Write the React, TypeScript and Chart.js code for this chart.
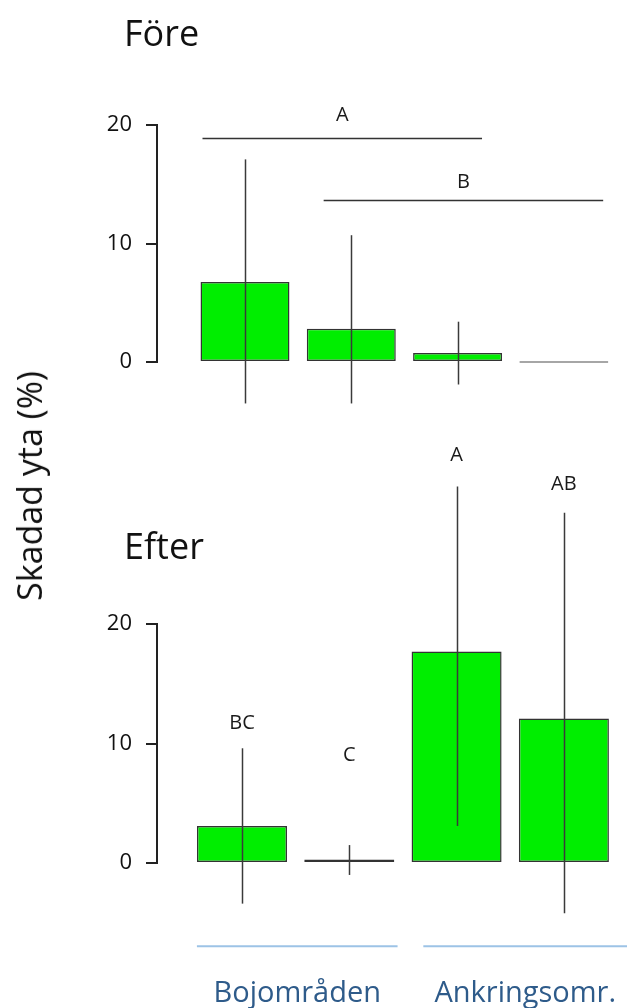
import React, { useEffect, useRef } from "react";
import { Chart, registerables } from "chart.js";

Chart.register(...registerables);

// ---- data ----
const xPositions = [1, 2, 3, 4];
const yTicks = [0, 10, 20];

const foreMeans = [6.75, 2.8, 0.75, 0];
const foreUpper = [17.1, 10.7, 3.4, 0];
const foreLower = [-3.5, -3.5, -1.9, 0];

const sigLetters = ["A", "B"];
const sigFrom = [0.6, 1.74];
const sigTo = [3.23, 4.37];
const sigLevel = [18.9, 13.7];
const sigLetterY = [20.8, 15.2];

const efterMeans = [3.1, 0.3, 17.7, 12.1];
const efterUpper = [9.6, 1.5, 31.5, 29.3];
const efterLower = [-3.4, -1.0, 3.1, -4.2];
const efterLetters = ["BC", "C", "A", "AB"];
const efterLetterY = [11.7, 9.0, 34.1, 31.7];

const groupNames = ["Bojområden", "Ankringsomr."];
const groupFrom = [0.58, 2.69];
const groupTo = [2.45, 4.59];

const FONT = "'Open Sans', 'Noto Sans', sans-serif";
const GREEN = "#00ee00";

type PanelOpts = {
  means: number[];
  upper: number[];
  lower: number[];
  barColors: string[];
  borderColors: string[];
  xMin: number;
  xMax: number;
  yMin: number;
  yMax: number;
  padTop: number;
  padBottom: number;
  barPct: number;
  decorate: (chart: any) => void;
};

function makeConfig(p: PanelOpts): any {
  const decor = {
    id: "panelDecor",
    afterDatasetsDraw(chart: any) {
      const ctx = chart.ctx;
      const xs = chart.scales.x;
      const ys = chart.scales.y;
      ctx.save();
      // y axis line from lowest to highest tick
      ctx.strokeStyle = "#222";
      ctx.lineWidth = 2;
      ctx.beginPath();
      ctx.moveTo(chart.chartArea.left, ys.getPixelForValue(yTicks[yTicks.length - 1]) - 1);
      ctx.lineTo(chart.chartArea.left, ys.getPixelForValue(yTicks[0]) + 1);
      ctx.stroke();
      // error bars
      ctx.strokeStyle = "#3a3a3a";
      ctx.lineWidth = 1.5;
      xPositions.forEach((xv, i) => {
        if (p.upper[i] === p.lower[i]) return;
        const px = Math.round(xs.getPixelForValue(xv)) + 0.5;
        ctx.beginPath();
        ctx.moveTo(px, ys.getPixelForValue(p.upper[i]));
        ctx.lineTo(px, ys.getPixelForValue(p.lower[i]));
        ctx.stroke();
      });
      ctx.restore();
      p.decorate(chart);
    },
  };
  const zeroPad = (s: any) => {
    s.paddingTop = 0;
    s.paddingBottom = 0;
    s.paddingLeft = 0;
    s.paddingRight = 0;
  };
  return {
    type: "bar",
    data: {
      datasets: [
        {
          data: xPositions.map((x, i) => ({ x, y: p.means[i] })),
          backgroundColor: p.barColors,
          borderColor: p.borderColors,
          borderWidth: 1.5,
          borderSkipped: false,
          minBarLength: 2,
          barPercentage: p.barPct,
          categoryPercentage: 1,
        },
      ],
    },
    options: {
      animation: false,
      responsive: false,
      devicePixelRatio: 1,
      layout: { autoPadding: false, padding: { left: 0, right: 10, top: p.padTop, bottom: p.padBottom } },
      plugins: { legend: { display: false }, tooltip: { enabled: false }, title: { display: false } },
      scales: {
        x: {
          type: "linear",
          display: false,
          offset: false,
          min: p.xMin,
          max: p.xMax,
          grid: { offset: false },
          afterBuildTicks: (s: any) => {
            s.ticks = xPositions.map((v) => ({ value: v }));
          },
          afterFit: zeroPad,
        },
        y: {
          type: "linear",
          min: p.yMin,
          max: p.yMax,
          afterBuildTicks: (s: any) => {
            s.ticks = yTicks.map((v) => ({ value: v }));
          },
          afterFit: (s: any) => {
            s.width = 157;
            zeroPad(s);
          },
          border: { display: false },
          grid: { display: true, drawOnChartArea: false, drawTicks: true, tickLength: 11, color: "#222", lineWidth: 2 },
          ticks: { padding: 14, color: "#111", font: { family: FONT, size: 22 } },
        },
      },
    },
    plugins: [decor],
  };
}

function drawText(ctx: any, text: string, x: number, y: number, size: number, color: string) {
  ctx.save();
  ctx.fillStyle = color;
  ctx.font = `${size}px ${FONT}`;
  ctx.textAlign = "center";
  ctx.textBaseline = "middle";
  ctx.fillText(text, x, y);
  ctx.restore();
}

export default function App() {
  const topRef = useRef<HTMLCanvasElement>(null);
  const botRef = useRef<HTMLCanvasElement>(null);

  useEffect(() => {
    const top = new Chart(
      topRef.current as HTMLCanvasElement,
      makeConfig({
        means: foreMeans,
        upper: foreUpper,
        lower: foreLower,
        barColors: [GREEN, GREEN, GREEN, "#a6a6a6"],
        borderColors: ["#333", "#333", "#333", "#a6a6a6"],
        xMin: 0.172,
        xMax: 4.5,
        yMin: -4.5,
        yMax: 22.5,
        padTop: 95.4,
        padBottom: 4.7,
        barPct: 0.837,
        decorate: (chart: any) => {
          const ctx = chart.ctx;
          const xs = chart.scales.x;
          const ys = chart.scales.y;
          sigLetters.forEach((l, i) => {
            const py = Math.round(ys.getPixelForValue(sigLevel[i])) + 0.5;
            ctx.save();
            ctx.strokeStyle = "#333";
            ctx.lineWidth = 1.5;
            ctx.beginPath();
            ctx.moveTo(xs.getPixelForValue(sigFrom[i]), py);
            ctx.lineTo(xs.getPixelForValue(sigTo[i]), py);
            ctx.stroke();
            ctx.restore();
            drawText(ctx, l, xs.getPixelForValue((sigFrom[i] + sigTo[i]) / 2), ys.getPixelForValue(sigLetterY[i]), 20, "#1a1a1a");
          });
        },
      })
    );
    const bot = new Chart(
      botRef.current as HTMLCanvasElement,
      makeConfig({
        means: efterMeans,
        upper: efterUpper,
        lower: efterLower,
        barColors: [GREEN, GREEN, GREEN, GREEN],
        borderColors: ["#333", "#333", "#333", "#333"],
        xMin: 0.208,
        xMax: 4.495,
        yMin: -5,
        yMax: 35,
        padTop: 24.75,
        padBottom: 85.25,
        barPct: 0.839,
        decorate: (chart: any) => {
          const ctx = chart.ctx;
          const xs = chart.scales.x;
          const ys = chart.scales.y;
          efterLetters.forEach((l, i) => {
            drawText(ctx, l, xs.getPixelForValue(xPositions[i]), ys.getPixelForValue(efterLetterY[i]), 20, "#1a1a1a");
          });
          const lineY = chart.chartArea.bottom + 23.5;
          groupNames.forEach((g, i) => {
            const x0 = xs.getPixelForValue(groupFrom[i]);
            const x1 = xs.getPixelForValue(groupTo[i]);
            ctx.save();
            ctx.strokeStyle = "#9dc3e6";
            ctx.lineWidth = 2;
            ctx.beginPath();
            ctx.moveTo(x0, lineY);
            ctx.lineTo(x1, lineY);
            ctx.stroke();
            ctx.fillStyle = "#2e5b8a";
            ctx.font = `29px ${FONT}`;
            ctx.textAlign = "center";
            ctx.textBaseline = "alphabetic";
            ctx.fillText(g, (x0 + x1) / 2, chart.chartArea.bottom + 79);
            ctx.restore();
          });
        },
      })
    );
    return () => {
      top.destroy();
      bot.destroy();
    };
  }, []);

  const titleStyle: React.CSSProperties = {
    position: "absolute",
    left: 124,
    fontFamily: FONT,
    fontSize: 36,
    lineHeight: "36px",
    color: "#111",
    whiteSpace: "nowrap",
  };

  return (
    <div
      style={{
        position: "absolute",
        left: 0,
        top: 0,
        width: 627,
        height: 1008,
        background: "#fff",
        overflow: "hidden",
      }}
    >
      <canvas ref={topRef} width={627} height={420} style={{ position: "absolute", left: 0, top: 0 }} />
      <canvas ref={botRef} width={627} height={588} style={{ position: "absolute", left: 0, top: 420 }} />
      <div style={{ ...titleStyle, top: 15 }}>Före</div>
      <div style={{ ...titleStyle, top: 528 }}>Efter</div>
      <div
        style={{
          position: "absolute",
          left: 29,
          top: 486,
          transform: "translate(-50%, -50%) rotate(-90deg)",
          fontFamily: FONT,
          fontSize: 34,
          lineHeight: "34px",
          color: "#111",
          whiteSpace: "nowrap",
        }}
      >
        Skadad yta (%)
      </div>
    </div>
  );
}
